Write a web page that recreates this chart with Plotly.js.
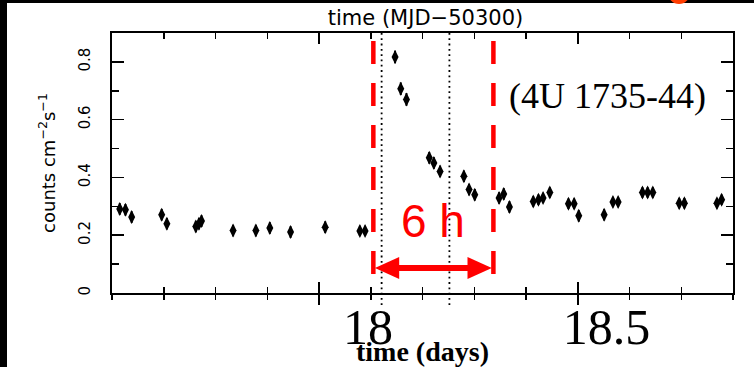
<!DOCTYPE html>
<html>
<head>
<meta charset="utf-8">
<script src="https://cdn.plot.ly/plotly-3.0.1.min.js"></script>
<style>
  html, body { margin: 0; padding: 0; background: #ffffff; }
  #chart { width: 754px; height: 367px; }
</style>
</head>
<body>
<div id="chart"></div>
<script>
// ---- data (time in original MJD-50300 axis units, flux in counts cm^-2 s^-1) ----
const timeVals = [
  17.615, 17.626, 17.638, 17.696, 17.706, 17.762, 17.768, 17.773,
  17.834, 17.878, 17.905, 17.945, 18.012, 18.079, 18.089,
  18.147, 18.158, 18.169, 18.213, 18.222, 18.234, 18.280, 18.290, 18.301,
  18.348, 18.357, 18.368, 18.414, 18.424, 18.433, 18.446,
  18.482, 18.493, 18.502, 18.551, 18.568, 18.578,
  18.625, 18.635, 18.645, 18.696, 18.706, 18.769, 18.778
];
const fluxVals = [
  0.291, 0.288, 0.263, 0.271, 0.240, 0.230, 0.240, 0.249,
  0.216, 0.216, 0.225, 0.211, 0.228, 0.215, 0.215,
  0.817, 0.707, 0.670, 0.468, 0.450, 0.421, 0.404, 0.358, 0.340,
  0.329, 0.343, 0.298, 0.317, 0.323, 0.329, 0.348,
  0.309, 0.309, 0.267, 0.271, 0.315, 0.315,
  0.348, 0.348, 0.348, 0.311, 0.311, 0.311, 0.323
];
const fluxErr = [
  0.020, 0.020, 0.020, 0.020, 0.020, 0.020, 0.020, 0.020,
  0.020, 0.020, 0.020, 0.020, 0.020, 0.018, 0.018,
  0.022, 0.022, 0.022, 0.020, 0.020, 0.020, 0.020, 0.020, 0.020,
  0.020, 0.020, 0.020, 0.018, 0.018, 0.018, 0.018,
  0.018, 0.018, 0.020, 0.020, 0.018, 0.018,
  0.018, 0.018, 0.018, 0.018, 0.018, 0.018, 0.018
];
// pasted-on bottom tick labels (time in days)
const dayTickVals = [18, 18.5];
const dayTickText = ['18', '18.5'];
// marked interval (red dashed) and reference times (dotted)
const intervalStart = 18.105, intervalEnd = 18.337;
const dottedTimes = [18.121, 18.252];

// pixel -> paper helpers for frame decorations
const L = 112, R = 21, T = 33, B = 74, W = 754, H = 367;
const px = v => (v - L) / (W - L - R);
const py = v => (H - B - v) / (H - T - B);

const trace = {
  x: timeVals, y: fluxVals,
  type: 'scatter', mode: 'markers',
  marker: { symbol: 'diamond-tall', size: 10, color: '#000' },
  error_y: { type: 'data', array: fluxErr, visible: true, thickness: 2, width: 0, color: '#000' },
  xaxis: 'x', yaxis: 'y', hoverinfo: 'skip', showlegend: false
};
// invisible traces to activate overlay axes
const t2 = { x: dayTickVals, y: [null, null], xaxis: 'x2', yaxis: 'y', type: 'scatter', mode: 'markers', showlegend: false, hoverinfo: 'skip' };
const t3 = { x: [18, 18.5], y: [null, null], xaxis: 'x3', yaxis: 'y', type: 'scatter', mode: 'markers', showlegend: false, hoverinfo: 'skip' };

const shapes = [];
// black border strips and orange blob
shapes.push({ type: 'rect', xref: 'paper', yref: 'paper', x0: px(0), x1: px(7), y0: py(367), y1: py(0), fillcolor: '#000', line: { width: 0 }, layer: 'above' });
shapes.push({ type: 'rect', xref: 'paper', yref: 'paper', x0: px(0), x1: px(754), y0: py(3), y1: py(0), fillcolor: '#000', line: { width: 0 }, layer: 'above' });
shapes.push({ type: 'circle', xref: 'paper', yref: 'paper', x0: px(668), x1: px(690), y0: py(-18), y1: py(4), fillcolor: '#ff3c00', line: { width: 0 }, layer: 'above' });
// dotted reference lines
dottedTimes.forEach(t => shapes.push({
  type: 'line', xref: 'x', yref: 'paper', x0: t, x1: t, y0: 1, y1: py(305),
  line: { color: '#000', width: 1.8, dash: '1.8px,3.5px' }
}));
// red dashed lines
[intervalStart, intervalEnd].forEach(t => shapes.push({
  type: 'line', xref: 'x', yref: 'y', x0: t, x1: t, y0: 0.8726, y1: 0.0625,
  line: { color: '#ff0000', width: 4.5, dash: '23px,19px' }
}));
// red double arrow
const ay = 0.0868, headLen = 0.047, headH = 0.038;
const a0 = intervalStart + 0.003, a1 = intervalEnd - 0.003;
shapes.push({ type: 'line', xref: 'x', yref: 'y', x0: a0 + headLen * 0.8, x1: a1 - headLen * 0.8, y0: ay, y1: ay, line: { color: '#ff0000', width: 6 } });
shapes.push({ type: 'path', xref: 'x', yref: 'y',
  path: `M ${a0},${ay} L ${a0 + headLen},${ay + headH} L ${a0 + headLen},${ay - headH} Z`,
  fillcolor: '#ff0000', line: { width: 0 } });
shapes.push({ type: 'path', xref: 'x', yref: 'y',
  path: `M ${a1},${ay} L ${a1 - headLen},${ay + headH} L ${a1 - headLen},${ay - headH} Z`,
  fillcolor: '#ff0000', line: { width: 0 } });

const sans = 'Liberation Sans, Arial, sans-serif';
const wide = 'DejaVu Sans, Verdana, sans-serif';
const serif = 'Liberation Serif, Times New Roman, serif';

const layout = {
  width: W, height: H,
  margin: { l: L, r: R, t: T, b: B },
  paper_bgcolor: '#fff', plot_bgcolor: '#fff',
  showlegend: false,
  title: {
    text: 'time (MJD\u221250300)',
    font: { family: wide, size: 21, color: '#000' },
    xref: 'paper', x: px(425.5), xanchor: 'center',
    yref: 'container', y: 1 - 18 / H, yanchor: 'middle'
  },
  xaxis: {
    range: [17.6, 18.8], showgrid: false, zeroline: false,
    showline: true, linecolor: '#000', linewidth: 2, mirror: 'ticks',
    ticks: 'inside', tick0: 18, dtick: 0.5, ticklen: 11, tickwidth: 1.5, tickcolor: '#000',
    minor: { tick0: 17.6, dtick: 0.1, ticks: 'inside', ticklen: 6, tickwidth: 1.5, tickcolor: '#000', showgrid: false },
    showticklabels: false, fixedrange: true
  },
  xaxis3: {
    overlaying: 'x', anchor: 'y', side: 'bottom',
    range: [17.6, 18.8], showgrid: false, zeroline: false, showline: false,
    ticks: 'outside', tick0: 18, dtick: 0.5, ticklen: 11, tickwidth: 1.5, tickcolor: '#000',
    minor: { tick0: 17.6, dtick: 0.1, ticks: 'outside', ticklen: 6, tickwidth: 1.5, tickcolor: '#000', showgrid: false },
    showticklabels: false, fixedrange: true
  },
  xaxis2: {
    overlaying: 'x', anchor: 'y', side: 'bottom',
    range: [17.4633, 18.7652], showgrid: false, zeroline: false, showline: false,
    ticks: '', tickmode: 'array', tickvals: dayTickVals, ticktext: dayTickText,
    tickfont: { family: serif, size: 50, color: '#000' },
    ticklabelstandoff: 0,
    title: { text: '<b>time (days)</b>', font: { family: serif, size: 28, color: '#000' }, standoff: 0 },
    fixedrange: true
  },
  yaxis: {
    range: [0, 0.9], showgrid: false, zeroline: false,
    showline: true, linecolor: '#000', linewidth: 2, mirror: 'ticks',
    ticks: 'inside', tick0: 0, dtick: 0.2, ticklen: 12, tickwidth: 1.5, tickcolor: '#000',
    minor: { dtick: 0.1, ticks: 'inside', ticklen: 7, tickwidth: 1.5, tickcolor: '#000', showgrid: false },
    tickangle: -90, tickformat: '.1~f',
    tickfont: { family: wide, size: 15, color: '#000' },
    ticklabelstandoff: 14,
    title: { text: 'counts cm<sup>\u22122</sup>s<sup>\u22121</sup>', font: { family: wide, size: 18, color: '#000' }, standoff: 16 },
    fixedrange: true
  },
  shapes: shapes,
  annotations: [
    { x: 18.220, y: 0.25, xref: 'x', yref: 'y', text: '6 h', showarrow: false,
      font: { family: sans, size: 46, color: '#ff0000' }, xanchor: 'center', yanchor: 'middle' },
    { x: 18.557, y: 0.681, xref: 'x', yref: 'y', text: '(4U 1735-44)', showarrow: false,
      font: { family: serif, size: 36, color: '#000' }, xanchor: 'center', yanchor: 'middle' }
  ]
};

Plotly.newPlot('chart', [trace, t2, t3], layout, { staticPlot: true, displayModeBar: false });
</script>
</body>
</html>
